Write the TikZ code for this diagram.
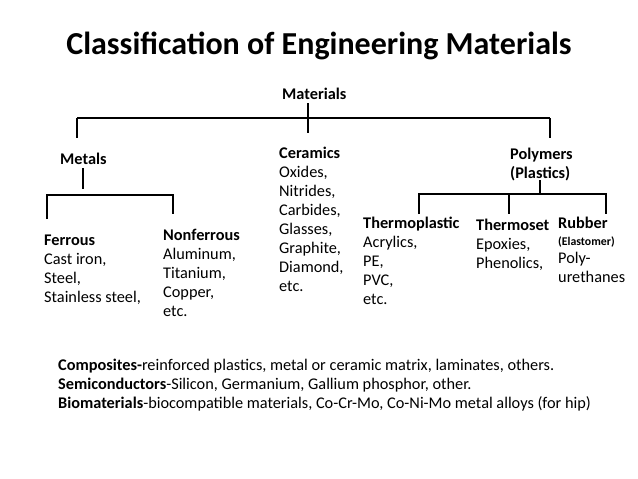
\documentclass[tikz,border=0pt]{standalone}
\usepackage{fontspec}
\setmainfont{Carlito}
\usetikzlibrary{positioning, calc}
\tikzset{
  title/.style={inner sep=0, anchor=base, font=\fontsize{32}{38}\selectfont\bfseries},
  head/.style={inner sep=0, anchor=base west, font=\fontsize{16.3}{19}\selectfont\bfseries},
  % multi-line groups: placed by the baseline of their last line
  group/.style={inner sep=0, anchor=base west, align=left, font=\fontsize{16.3}{19}\selectfont},
  branch/.style={line width=1.3pt}
}
\newcommand{\smallnote}{\fontsize{11.8}{13}\selectfont}

\begin{document}
\begin{tikzpicture}[x=1pt, y=-1pt]
  \useasboundingbox (0,0) rectangle (638,479);
  \node (title) [title] at (319,54) {Classification of Engineering Materials};
  \node (mat) [head] at (282,99) {Materials};
  \node (metals) [head] at (60,164) {Metals};
  \node (ceramics) [group] at (279,291) {\textbf{Ceramics}\\Oxides,\\Nitrides,\\Carbides,\\Glasses,\\Graphite,\\Diamond,\\etc.};
  \node (polymers) [group] at (510,178) {\textbf{Polymers}\\\textbf{(Plastics)}};
  \node (ferrous) [group] at (44,302) {\textbf{Ferrous}\\Cast iron,\\Steel,\\Stainless steel,};
  \node (nonferrous) [group] at (163,316) {\textbf{Nonferrous}\\Aluminum,\\Titanium,\\Copper,\\etc.};
  \node (thermoplastic) [group] at (363,304) {\textbf{Thermoplastic}\\Acrylics,\\PE,\\PVC,\\etc.};
  \node (thermoset) [group] at (476,268) {\textbf{Thermoset}\\Epoxies,\\Phenolics,};
  \node (rubber) [group] at (558,282) {\textbf{Rubber}\\[-2pt]{\smallnote\textbf{(Elastomer)}}\\[-1pt]Poly-\\urethanes};
  \node (others) [group] at (58,408) {\textbf{Composites-}reinforced plastics, metal or ceramic matrix, laminates, others.\\\textbf{Semiconductors}-Silicon, Germanium, Gallium phosphor, other.\\\textbf{Biomaterials}-biocompatible materials, Co-Cr-Mo, Co-Ni-Mo metal alloys (for hip)};

  % main branches
  \coordinate (top-left) at (77,118);
  \coordinate (top-right) at (550,118);
  \coordinate (top-mid) at (308,133);
  \coordinate (metals-end) at (77,138);
  \coordinate (polymers-end) at (550,138);
  \draw [branch] (top-left) -- (top-right);
  \draw [branch] (308,103) -- (top-mid);
  \draw [branch] (top-left) -- (metals-end);
  \draw [branch] (top-right) -- (polymers-end);

  % metals
  \coordinate (metals-stub) at (83,189);
  \coordinate (metals-l) at (47,195);
  \coordinate (metals-r) at (173,195);
  \draw [branch] (83,168) -- (metals-stub);
  \draw [branch] (47,219) -- (metals-l) -- (metals-r) -- (173,214);

  % polymers
  \coordinate (poly-l) at (419,194);
  \coordinate (poly-m) at (509,194);
  \coordinate (poly-r) at (606,194);
  \draw [branch] (540,180) -- (540,194);
  \draw [branch] (419,214) -- (poly-l) -- (poly-r) -- (606,214);
  \draw [branch] (poly-m) -- (509,214);
\end{tikzpicture}
\end{document}
